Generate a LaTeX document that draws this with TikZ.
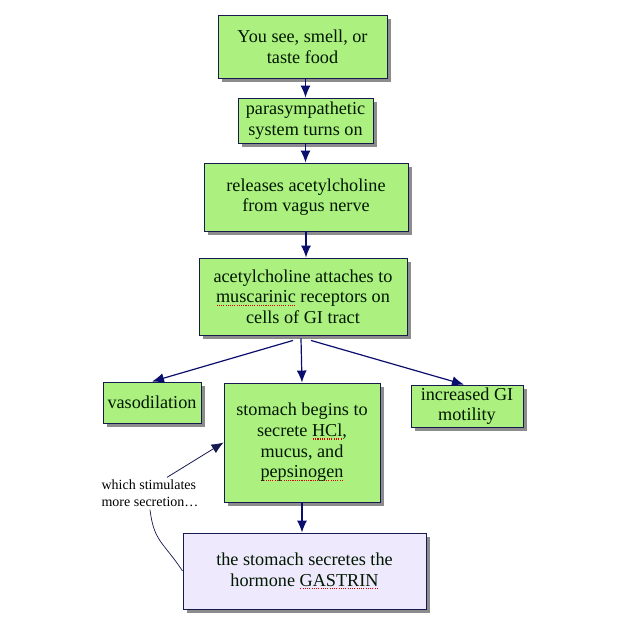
\documentclass[tikz,border=0pt]{standalone}
\usepackage{fontspec}
\setmainfont{Liberation Serif}
\usepackage{tikz}
\usetikzlibrary{shadows}
\usetikzlibrary{arrows.meta}
\tikzset{>=latex}
\definecolor{boxgreen}{RGB}{172,240,128}
\definecolor{boxlilac}{RGB}{238,233,252}
\definecolor{boxedge}{RGB}{22,26,78}
\definecolor{arrownavy}{RGB}{10,14,110}
\newcommand\spellmark[1]{\setbox0\hbox{#1}\leavevmode\rlap{\raisebox{-3pt}{\hbox to \wd0{\color{red!85!black}\xleaders\hbox to 2.2pt{\hss\rule{1.1pt}{1.1pt}\hss}\hfill}}}\box0\relax}
\tikzset{
  flowbox/.style={draw=boxedge,line width=0.9pt,inner sep=2pt,align=center,
    font=\fontsize{18.2}{20.7}\selectfont,text=black!85!green!60!black,
    drop shadow={shadow xshift=4pt,shadow yshift=-4pt,fill=black!45,opacity=1}},
  greenbox/.style={flowbox,fill=boxgreen},
  lilacbox/.style={flowbox,fill=boxlilac},
  flowarrow/.style={->,draw=arrownavy,line width=1.2pt,>={Latex[length=12pt,width=10pt]}},
  thinarrow/.style={->,draw=boxedge,line width=0.8pt,>={Latex[length=12pt,width=10pt]}}
}
\begin{document}
\begin{tikzpicture}[x=1pt,y=-1pt]
       \useasboundingbox[fill=white] (0,0) rectangle (624,630);
       % chain of boxes
       \node[greenbox,minimum width=169pt,minimum height=63pt] (see) at (302.5,46.5) {You see, smell, or\\taste food};
       \node[greenbox,minimum width=135pt,minimum height=45pt] (para) at (305.5,120.5) {parasympathetic\\system turns on};
       \node[greenbox,minimum width=204pt,minimum height=68pt] (vagus) at (306,197) {releases acetylcholine\\from vagus nerve};
       \node[greenbox,minimum width=208pt,minimum height=77pt] (musc) at (303,296.5) {acetylcholine attaches to\\\spellmark{muscarinic} receptors on\\cells of GI tract};
       \node[greenbox,minimum width=98pt,minimum height=41pt] (vaso) at (152,402.5) {vasodilation};
       \node[greenbox,minimum width=156pt,minimum height=119pt] (stom) at (302,442.5) {stomach begins to\\secrete \spellmark{HCl},\\mucus, and\\\spellmark{pepsinogen}};
       \node[greenbox,minimum width=112pt,minimum height=42pt,inner ysep=0pt] (motil) at (467,406) {increased GI\\motility};
       \node[lilacbox,minimum width=243pt,minimum height=76pt] (gast) at (304.5,571) {the stomach secretes the\\hormone \spellmark{GASTRIN}};
       \node[align=left,inner sep=0pt,font=\fontsize{14}{17}\selectfont] (note) at (150,493) {which stimulates\\more secretion\dots};
       % arrows
       \draw[flowarrow] (para.north |- see.south) -- (para.north);
       \draw[flowarrow] (para.south) -- (para.south |- vagus.north);
       \draw[flowarrow] (vagus.south) -- (vagus.south |- musc.north);
       \draw[flowarrow] ([xshift=-10pt,yshift=-5pt]musc.south) -- (vaso.north);
       \draw[flowarrow] ([xshift=-2pt,yshift=-3pt]musc.south) -- (stom.north);
       \draw[flowarrow] ([xshift=8pt,yshift=-5pt]musc.south) -- ([xshift=-3pt]motil.north);
       \draw[flowarrow] (stom.south) -- (stom.south |- gast.north);
       \draw[thinarrow] ([xshift=17pt,yshift=2pt]note.north) -- (stom.west);
       \draw[boxedge,line width=0.7pt] ([yshift=-3pt]note.south) .. controls +(4,32) and +(-20,-30) .. (gast.west);
      \end{tikzpicture}
\end{document}
